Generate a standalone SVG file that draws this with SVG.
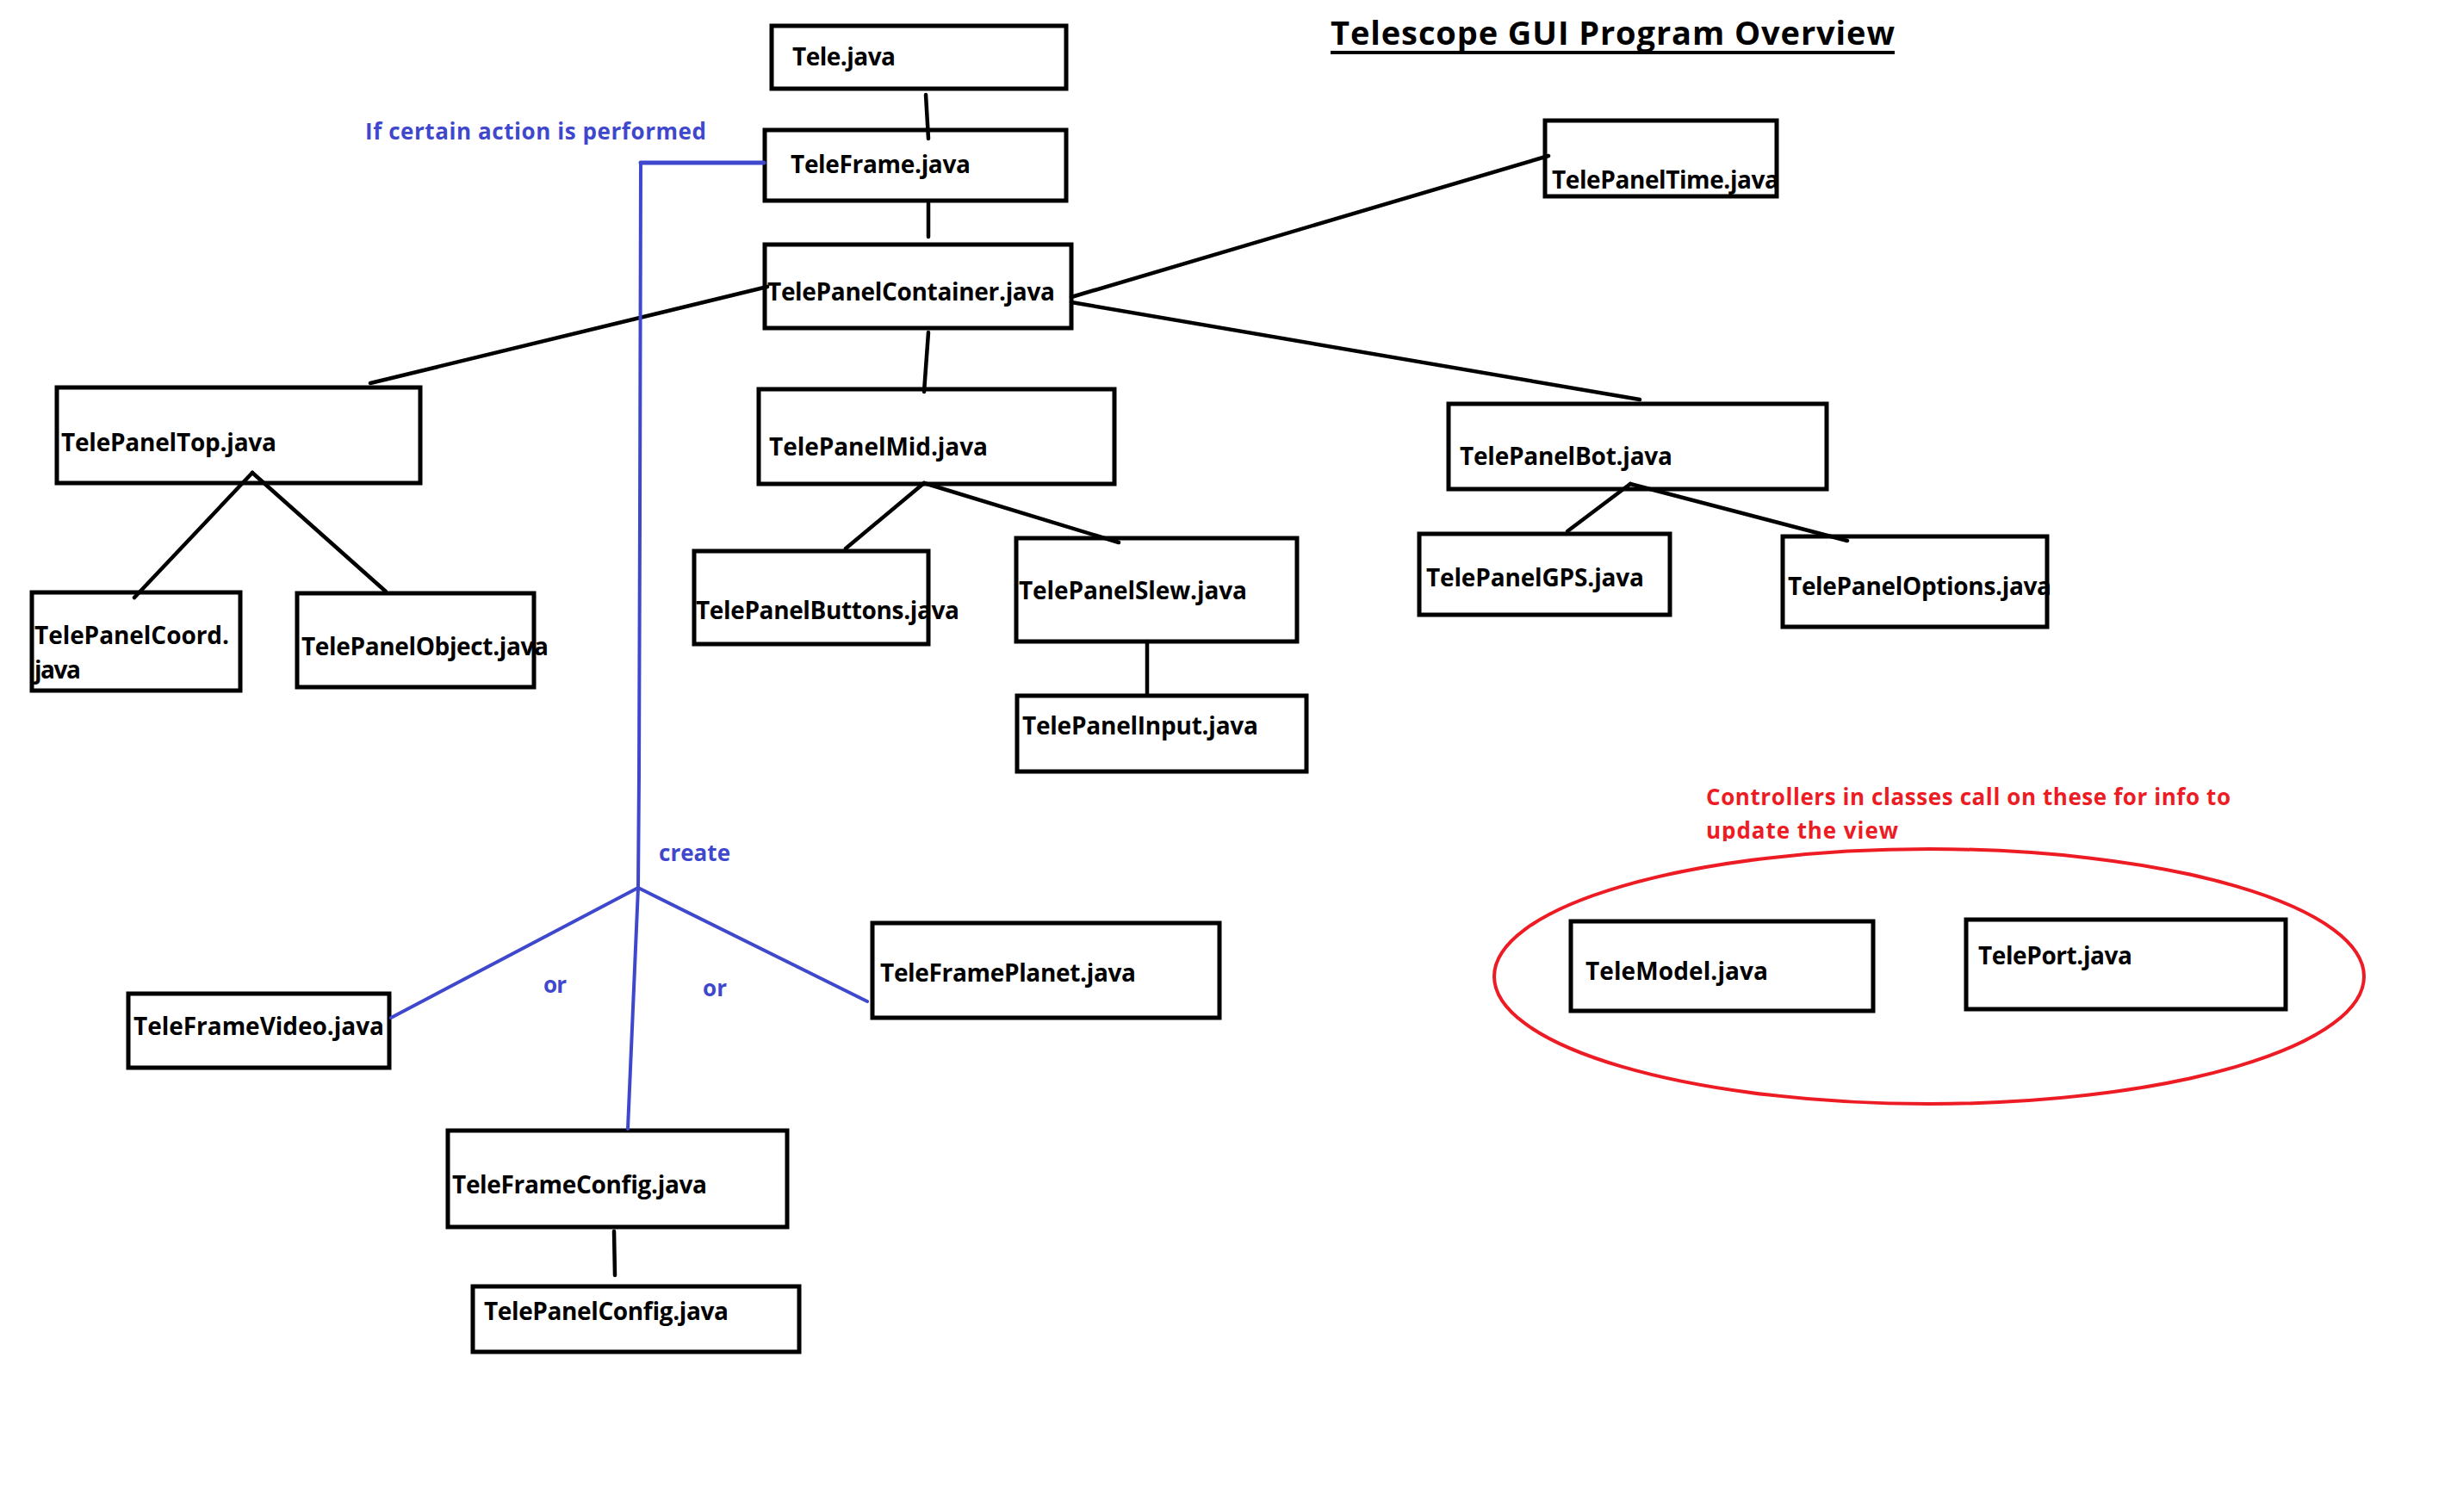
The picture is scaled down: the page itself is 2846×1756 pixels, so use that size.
<svg xmlns="http://www.w3.org/2000/svg" width="2846" height="1756" viewBox="0 0 2846 1756">
<style>
.box{fill:#fff;stroke:#000;stroke-width:5}
.lbl{font-family:"Open Sans","Liberation Sans",sans-serif;font-weight:700;font-size:28px;fill:#000}
.blue{font-family:"Open Sans","Liberation Sans",sans-serif;font-weight:700;font-size:26px;fill:#3F48CC}
.red{font-family:"Open Sans","Liberation Sans",sans-serif;font-weight:700;font-size:26px;fill:#ED1C24}
.title{font-family:"Open Sans","Liberation Sans",sans-serif;font-weight:700;font-size:38px;fill:#000}
.c{stroke:#000;stroke-width:4.5;fill:none;stroke-linecap:round}
.b{stroke:#3F48CC;stroke-width:4;fill:none;stroke-linecap:round}
</style>
<defs>
<clipPath id="clipRed"><rect x="1900" y="880" width="800" height="97"/></clipPath>
</defs>
<rect width="2846" height="1756" fill="#fff"/>

<g id="title">
<text class="title" x="1545" y="52" textLength="655">Telescope GUI Program Overview</text>
<rect x="1545" y="59" width="655" height="4" fill="#000"/>
</g>

<g id="labels">
<text class="blue" x="424" y="162" textLength="396">If certain action is performed</text>
<text class="blue" x="765" y="1000" textLength="83">create</text>
<text class="blue" x="631" y="1153" textLength="27">or</text>
<text class="blue" x="816" y="1157" textLength="28">or</text>
<text class="red" x="1981" y="935" textLength="609">Controllers in classes call on these for info to</text>
<text class="red" x="1981" y="974" textLength="223" clip-path="url(#clipRed)">update the view</text>
</g>

<g id="model-group">
<ellipse cx="2240" cy="1134" rx="505" ry="148" fill="none" stroke="#ED1C24" stroke-width="4"/>
</g>

<g id="tele"><rect class="box" x="896" y="30" width="342" height="73"/><text class="lbl" x="920" y="76" textLength="120">Tele.java</text></g>
<g id="teleframe"><rect class="box" x="888" y="151" width="350" height="82"/><text class="lbl" x="918" y="201" textLength="209">TeleFrame.java</text></g>
<g id="telepanelcontainer"><rect class="box" x="888" y="284" width="356" height="97"/><text class="lbl" x="891" y="349" textLength="334">TelePanelContainer.java</text></g>
<g id="telepaneltime"><rect class="box" x="1794" y="140" width="269" height="88"/><text class="lbl" x="1802" y="219" textLength="264">TelePanelTime.java</text></g>
<g id="telepaneltop"><rect class="box" x="66" y="450" width="422" height="111"/><text class="lbl" x="71" y="524" textLength="250">TelePanelTop.java</text></g>
<g id="telepanelmid"><rect class="box" x="881" y="452" width="413" height="110"/><text class="lbl" x="893" y="529" textLength="254">TelePanelMid.java</text></g>
<g id="telepanelbot"><rect class="box" x="1682" y="469" width="439" height="99"/><text class="lbl" x="1695" y="540" textLength="247">TelePanelBot.java</text></g>
<g id="telepanelcoord"><rect class="box" x="37" y="688" width="242" height="114"/><text class="lbl" x="40" y="748" textLength="226">TelePanelCoord.</text><text class="lbl" x="40" y="788" textLength="54">java</text></g>
<g id="telepanelobject"><rect class="box" x="345" y="689" width="275" height="109"/><text class="lbl" x="350" y="761" textLength="287">TelePanelObject.java</text></g>
<g id="telepanelbuttons"><rect class="box" x="806" y="640" width="272" height="108"/><text class="lbl" x="808" y="719" textLength="306">TelePanelButtons.java</text></g>
<g id="telepanelslew"><rect class="box" x="1180" y="625" width="326" height="120"/><text class="lbl" x="1183" y="696" textLength="265">TelePanelSlew.java</text></g>
<g id="telepanelinput"><rect class="box" x="1181" y="808" width="336" height="88"/><text class="lbl" x="1187" y="853" textLength="274">TelePanelInput.java</text></g>
<g id="telepanelgps"><rect class="box" x="1648" y="620" width="291" height="94"/><text class="lbl" x="1656" y="681" textLength="253">TelePanelGPS.java</text></g>
<g id="telepaneloptions"><rect class="box" x="2070" y="623" width="307" height="105"/><text class="lbl" x="2076" y="691" textLength="306">TelePanelOptions.java</text></g>
<g id="teleframeplanet"><rect class="box" x="1013" y="1072" width="403" height="110"/><text class="lbl" x="1022" y="1140" textLength="297">TeleFramePlanet.java</text></g>
<g id="teleframevideo"><rect class="box" x="149" y="1154" width="303" height="86"/><text class="lbl" x="155" y="1202" textLength="291">TeleFrameVideo.java</text></g>
<g id="teleframeconfig"><rect class="box" x="520" y="1313" width="394" height="112"/><text class="lbl" x="525" y="1386" textLength="296">TeleFrameConfig.java</text></g>
<g id="telepanelconfig"><rect class="box" x="549" y="1494" width="379" height="76"/><text class="lbl" x="562" y="1533" textLength="284">TelePanelConfig.java</text></g>
<g id="telemodel"><rect class="box" x="1824" y="1070" width="351" height="104"/><text class="lbl" x="1841" y="1138" textLength="212">TeleModel.java</text></g>
<g id="teleport"><rect class="box" x="2283" y="1068" width="371" height="104"/><text class="lbl" x="2297" y="1120" textLength="179">TelePort.java</text></g>

<g id="connectors">
<line class="c" x1="1075" y1="110" x2="1078" y2="161"/>
<line class="c" x1="1078" y1="236" x2="1078" y2="275"/>
<line class="c" x1="891" y1="333" x2="430" y2="445"/>
<line class="c" x1="1078" y1="386" x2="1073" y2="455"/>
<line class="c" x1="1244" y1="345" x2="1798" y2="181"/>
<line class="c" x1="1244" y1="351" x2="1904" y2="464"/>
<line class="c" x1="293" y1="549" x2="156" y2="694"/>
<line class="c" x1="293" y1="549" x2="448" y2="687"/>
<line class="c" x1="1073" y1="561" x2="982" y2="637"/>
<line class="c" x1="1073" y1="561" x2="1299" y2="630"/>
<line class="c" x1="1332" y1="745" x2="1332" y2="807"/>
<line class="c" x1="1893" y1="562" x2="1820" y2="617"/>
<line class="c" x1="1893" y1="562" x2="2145" y2="628"/>
<line class="c" x1="713" y1="1430" x2="714" y2="1481"/>
<line class="b" x1="744" y1="189" x2="887" y2="189" style="stroke-width:5"/>
<polyline class="b" points="744,189 743,600 742,900 741,1031"/>
<line class="b" x1="741" y1="1031" x2="454" y2="1182"/>
<line class="b" x1="741" y1="1031" x2="1007" y2="1163"/>
<line class="b" x1="741" y1="1031" x2="729" y2="1311"/>
</g>
</svg>
